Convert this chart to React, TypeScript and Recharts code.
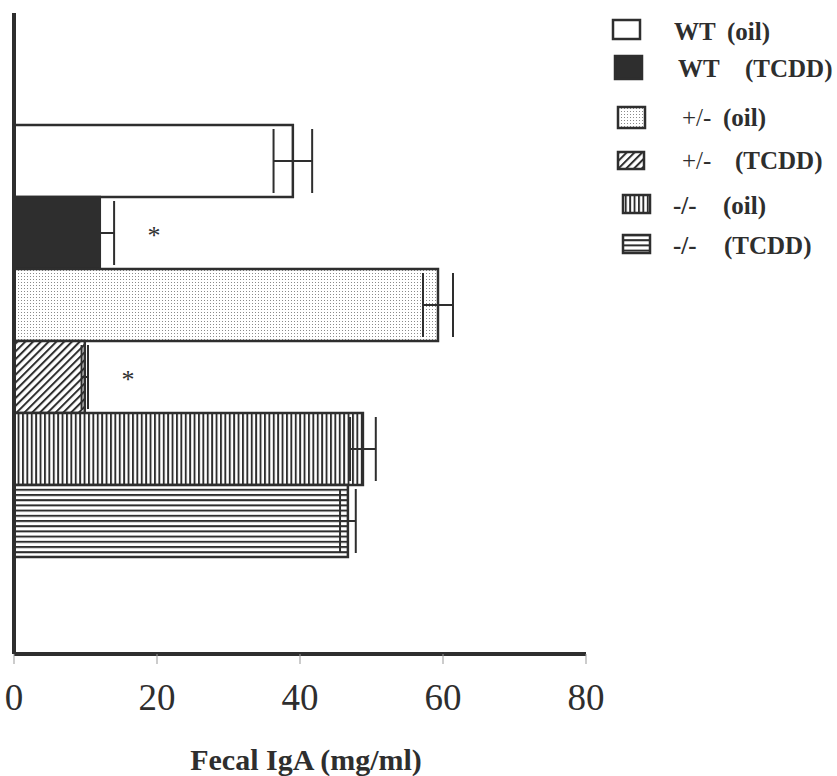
import { BarChart, Bar, XAxis, YAxis, ErrorBar, Cell, LabelList } from "recharts";

// Fecal IgA per group
const groups = ["WT (oil)", "WT (TCDD)", "+/- (oil)", "+/- (TCDD)", "-/- (oil)", "-/- (TCDD)"];
const genotypes = ["WT", "WT", "+/-", "+/-", "-/-", "-/-"];
const treatments = ["(oil)", "(TCDD)", "(oil)", "(TCDD)", "(oil)", "(TCDD)"];
const igaValues = [39.0, 12.0, 59.3, 9.9, 48.8, 46.7];
const igaErrors = [2.7, 2.0, 2.1, 0.45, 1.8, 1.1];
const significant = [false, true, false, true, false, false];
const xTicks = [0, 20, 40, 60, 80];

const INK = "#2e2e2e";
const FONT = "'Liberation Serif', 'Times New Roman', serif";

const fillFor = (i: number, prefix: string) =>
  ["#ffffff", INK, `url(#${prefix}stipple)`, `url(#${prefix}hatch)`, `url(#${prefix}vstripe)`, `url(#${prefix}hstripe)`][i];

// legend layout (page coords)
const legendRows = [
  { sx: 613, sy: 20, sw: 27, sh: 19, t1: 674, t2: 727, cy: 31 },
  { sx: 615, sy: 56, sw: 27, sh: 23, t1: 678, t2: 745, cy: 68 },
  { sx: 618, sy: 107, sw: 27, sh: 21, t1: 682, t2: 723, cy: 117 },
  { sx: 618, sy: 152, sw: 26, sh: 17, t1: 682, t2: 735, cy: 160 },
  { sx: 623, sy: 195, sw: 27, sh: 18, t1: 673, t2: 723, cy: 205 },
  { sx: 623, sy: 235, sw: 27, sh: 18, t1: 673, t2: 724, cy: 245 },
];

const data = groups.map((name, i) => ({
  name,
  value: igaValues[i],
  err: igaErrors[i],
  sig: significant[i],
}));

const Patterns = ({ prefix }: { prefix: string }) => (
  <defs>
    <pattern id={`${prefix}stipple`} width={3} height={3} patternUnits="userSpaceOnUse">
      <rect width={3} height={3} fill="#fff" />
      <rect width={1} height={1} fill="#8a8a8a" />
    </pattern>
    <pattern id={`${prefix}hatch`} width={5.5} height={5.5} patternUnits="userSpaceOnUse" patternTransform="rotate(45)">
      <rect width={5.5} height={5.5} fill="#fff" />
      <rect width={2} height={5.5} fill={INK} />
    </pattern>
    <pattern id={`${prefix}vstripe`} width={4.4} height={4} patternUnits="userSpaceOnUse">
      <rect width={4.4} height={4} fill="#fff" />
      <rect width={1.9} height={4} fill={INK} />
    </pattern>
    <pattern id={`${prefix}hstripe`} width={4} height={5.2} patternUnits="userSpaceOnUse">
      <rect width={4} height={5.2} fill="#fff" />
      <rect width={4} height={2} fill={INK} />
    </pattern>
  </defs>
);

const Asterisk = (props: any) => {
  const { x, y, width, height, index } = props;
  if (!significant[index]) return null;
  const pxPerUnit = width / igaValues[index];
  const ax = x + width + pxPerUnit * igaErrors[index] + 40;
  return (
    <text x={ax} y={y + height / 2 + 11} textAnchor="middle" fontSize={26} fontFamily={FONT} fill={INK}>
      *
    </text>
  );
};

const App = () => {
  return (
    <div style={{ position: "absolute", left: 0, top: 0, width: 837, height: 776, background: "#fff" }}>
      <BarChart
        width={837}
        height={776}
        data={data}
        layout="vertical"
        barCategoryGap={0}
        margin={{ top: 13, right: 251, left: 0, bottom: 0 }}
      >
        <Patterns prefix="c-" />
        <XAxis
          type="number"
          domain={[0, 80]}
          ticks={xTicks}
          height={122}
          axisLine={{ stroke: INK, strokeWidth: 4 }}
          tickLine={{ stroke: "#999", strokeWidth: 1 }}
          tickSize={10}
          tickMargin={20}
          tick={{ fontSize: 37, fontFamily: FONT, fill: INK }}
          label={{
            value: "Fecal IgA (mg/ml)",
            position: "insideBottom",
            offset: 6,
            dx: 6,
            fontSize: 30,
            fontWeight: "bold",
            fontFamily: FONT,
            fill: INK,
          }}
        />
        <YAxis
          type="category"
          dataKey="name"
          width={14}
          tick={false}
          tickLine={false}
          axisLine={{ stroke: INK, strokeWidth: 4 }}
          padding={{ top: 112, bottom: 97 }}
        />
        <Bar dataKey="value" stroke={INK} strokeWidth={2.5} isAnimationActive={false}>
          {data.map((d, i) => (
            <Cell key={d.name} fill={fillFor(i, "c-")} />
          ))}
          <ErrorBar dataKey="err" direction="x" width={32} stroke={INK} strokeWidth={2} />
          <LabelList dataKey="value" content={Asterisk} />
        </Bar>
      </BarChart>
      <svg
        width={837}
        height={776}
        style={{ position: "absolute", left: 0, top: 0, pointerEvents: "none" }}
      >
        <Patterns prefix="l-" />
        {legendRows.map((r, i) => (
          <g key={groups[i]}>
            <rect x={r.sx} y={r.sy} width={r.sw} height={r.sh} fill={fillFor(i, "l-")} stroke={INK} strokeWidth={2.5} />
            <text
              x={r.t1}
              y={r.cy}
              dominantBaseline="central"
              fontSize={25}
              fontFamily={FONT}
              fontWeight={genotypes[i] === "+/-" ? "normal" : "bold"}
              fill={INK}
            >
              {genotypes[i]}
            </text>
            <text x={r.t2} y={r.cy} dominantBaseline="central" fontSize={25} fontFamily={FONT} fontWeight="bold" fill={INK}>
              {treatments[i]}
            </text>
          </g>
        ))}
      </svg>
    </div>
  );
};

export default App;
